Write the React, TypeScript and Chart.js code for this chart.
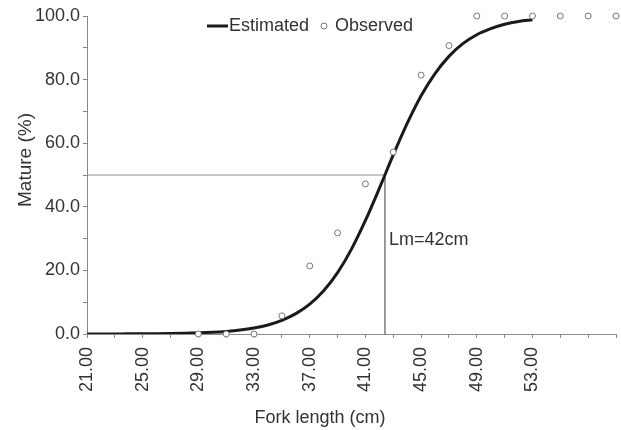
import { useEffect, useRef } from "react";
import { Chart, registerables } from "chart.js";

Chart.register(...registerables);

// Estimated maturity curve
const curveLengths = [21, 22, 23, 24, 25, 26, 27, 28, 29, 30, 31, 32, 33, 34, 35, 36, 37, 38, 39, 40, 41, 42, 43, 44, 45, 46, 47, 48, 49, 50, 51, 52, 53];
const curveValues = [0.01, 0.02, 0.03, 0.04, 0.07, 0.1, 0.15, 0.24, 0.36, 0.54, 0.82, 1.25, 1.9, 2.85, 4.3, 6.4, 9.4, 13.6, 19.3, 26.7, 35.7, 45.8, 56.3, 66.2, 74.9, 81.9, 87.3, 91.3, 94.1, 96.0, 97.4, 98.3, 98.8];

// Observed proportions mature
const observedLengths = [29, 31, 33, 35, 37, 39, 41, 43, 45, 47, 49, 51, 53, 55, 57, 59];
const observedValues = [0, 0, 0, 5.7, 21.4, 31.8, 47.2, 57.2, 81.4, 90.7, 100, 100, 100, 100, 100, 100];

// Length at 50% maturity
const lmLength = [42.4];
const lmPercent = [50];
const lmLabel = "Lm=42cm";

const xTickLabels = ["21.00", "25.00", "29.00", "33.00", "37.00", "41.00", "45.00", "49.00", "53.00"];
const yTickLabels = ["0.0", "20.0", "40.0", "60.0", "80.0", "100.0"];
const xTitle = "Fork length (cm)";
const yTitle = "Mature (%)";

const FONT = "'Liberation Sans', Arial, sans-serif";
const TEXT = "#333333";
const AXIS = "#8a8a8a";

export default function App() {
  const ref = useRef<HTMLCanvasElement | null>(null);

  useEffect(() => {
    document.body.style.margin = "0";
    const canvas = ref.current;
    if (!canvas) return;

    const overlay = {
      id: "overlay",
      afterDraw(chart: any) {
        const { ctx, chartArea, scales } = chart;
        ctx.save();
        ctx.fillStyle = TEXT;

        // Axis titles
        ctx.font = `18px ${FONT}`;
        ctx.textAlign = "center";
        ctx.textBaseline = "alphabetic";
        ctx.fillText(xTitle, chartArea.left + 233, chart.height - 7);

        ctx.save();
        ctx.font = `19px ${FONT}`;
        ctx.translate(31, chartArea.top + 144);
        ctx.rotate(-Math.PI / 2);
        ctx.fillText(yTitle, 0, 0);
        ctx.restore();

        // Lm label
        ctx.font = `18px ${FONT}`;
        ctx.textBaseline = "middle";
        ctx.textAlign = "left";
        ctx.fillText(lmLabel, scales.x.getPixelForValue(lmLength[0]) + 4, scales.y.getPixelForValue(29.5));

        // Legend
        const lx = chartArea.left + 120;
        const ly = chartArea.top + 10;
        ctx.strokeStyle = "#1a1a1a";
        ctx.lineWidth = 3;
        ctx.beginPath();
        ctx.moveTo(lx, ly);
        ctx.lineTo(lx + 21, ly);
        ctx.stroke();
        ctx.fillStyle = TEXT;
        ctx.fillText("Estimated", lx + 22, ly);
        ctx.lineWidth = 1;
        ctx.strokeStyle = "#777777";
        ctx.fillStyle = "#ffffff";
        ctx.beginPath();
        ctx.arc(lx + 117, ly, 3, 0, Math.PI * 2);
        ctx.fill();
        ctx.stroke();
        ctx.fillStyle = TEXT;
        ctx.fillText("Observed", lx + 128, ly);
        ctx.restore();
      },
    };

    const chart = new Chart(canvas, {
      type: "scatter",
      data: {
        datasets: [
          {
            label: "Observed",
            data: observedLengths.map((x, i) => ({ x, y: observedValues[i] })),
            showLine: false,
            pointStyle: "circle",
            pointRadius: 3,
            pointBorderWidth: 1,
            pointBorderColor: "#777777",
            pointBackgroundColor: "#ffffff",
            clip: false,
          } as any,
          {
            label: "Estimated",
            data: curveLengths.map((x, i) => ({ x, y: curveValues[i] })),
            showLine: true,
            borderColor: "#1a1a1a",
            borderWidth: 3,
            pointRadius: 0,
            tension: 0.4,
            cubicInterpolationMode: "monotone",
          } as any,
          {
            label: "Lm",
            data: [
              { x: curveLengths[0], y: lmPercent[0] },
              { x: lmLength[0], y: lmPercent[0] },
              { x: lmLength[0], y: 0 },
            ],
            showLine: true,
            borderColor: "#8c8c8c",
            borderWidth: 1,
            pointRadius: 0,
            tension: 0,
          } as any,
        ],
      },
      options: {
        animation: false,
        responsive: false,
        devicePixelRatio: 1,
        layout: { padding: { top: 16, right: 5, left: 0, bottom: 0 } },
        plugins: {
          legend: { display: false },
          tooltip: { enabled: false },
        },
        scales: {
          x: {
            type: "linear",
            min: 21,
            max: 59,
            ticks: {
              stepSize: 2,
              autoSkip: false,
              maxRotation: 90,
              minRotation: 90,
              padding: 9,
              color: TEXT,
              font: { family: FONT, size: 18 },
              callback: (v: any) => {
                const s = Number(v).toFixed(2);
                return xTickLabels.includes(s) ? s : "";
              },
            },
            grid: { drawOnChartArea: false, drawTicks: true, tickLength: 4, color: AXIS },
            border: { color: AXIS, width: 1 },
            title: { display: false, text: xTitle },
            afterFit: (s: any) => {
              s.height = 96;
              s.paddingLeft = 0;
              s.paddingRight = 0;
            },
          },
          y: {
            type: "linear",
            min: 0,
            max: 100,
            ticks: {
              stepSize: 10,
              autoSkip: false,
              padding: 3,
              color: TEXT,
              font: { family: FONT, size: 18 },
              callback: (v: any) => {
                const s = Number(v).toFixed(1);
                return yTickLabels.includes(s) ? s : "";
              },
            },
            grid: { drawOnChartArea: false, drawTicks: true, tickLength: 4, color: AXIS },
            border: { color: AXIS, width: 1 },
            title: { display: false, text: yTitle },
            afterFit: (s: any) => {
              s.width = 87;
              s.paddingTop = 0;
              s.paddingBottom = 0;
            },
          },
        },
      } as any,
      plugins: [overlay],
    });

    return () => chart.destroy();
  }, []);

  return (
    <div style={{ width: 621, height: 430, background: "#ffffff" }}>
      <canvas ref={ref} width={621} height={430} style={{ display: "block" }} />
    </div>
  );
}
